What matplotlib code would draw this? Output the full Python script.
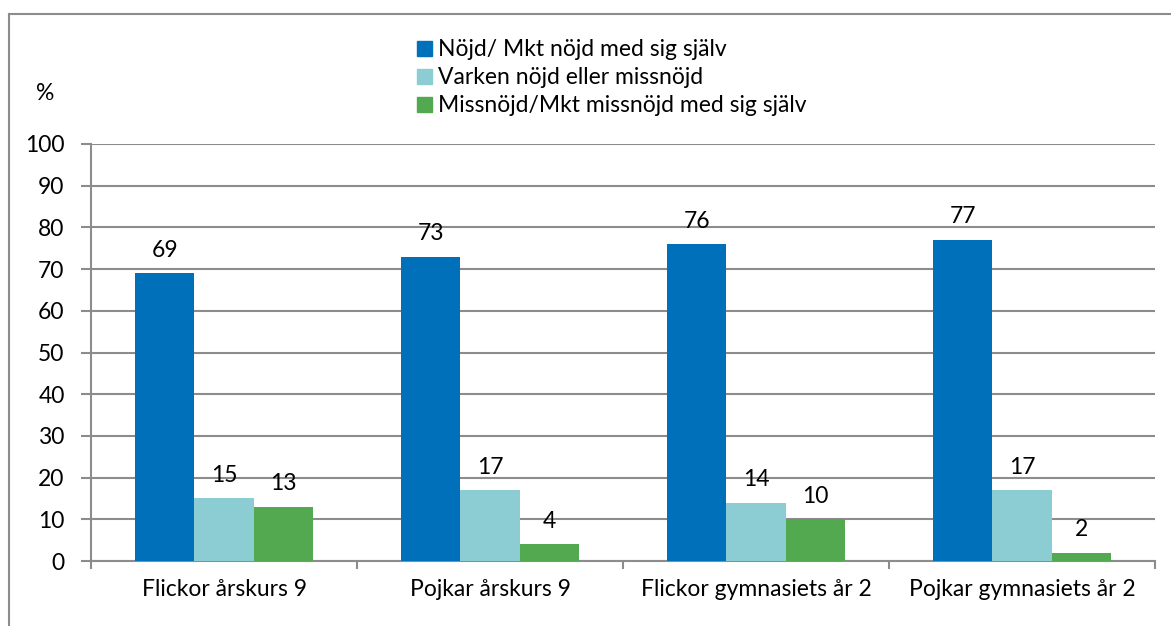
import numpy as np
import matplotlib
matplotlib.use("Agg")
import matplotlib.pyplot as plt
from matplotlib.lines import Line2D
from matplotlib.patches import Patch

plt.rcParams['font.family'] = ['Lato', 'DejaVu Sans']

# Données
categories = ["Flickor årskurs 9", "Pojkar årskurs 9",
              "Flickor gymnasiets år 2", "Pojkar gymnasiets år 2"]
series_names = ["Nöjd/ Mkt nöjd med sig själv",
                "Varken nöjd eller missnöjd",
                "Missnöjd/Mkt missnöjd med sig själv"]
nojd = [69, 73, 76, 77]
varken = [15, 17, 14, 17]
missnojd = [13, 4, 10, 2]
yticks = [0, 10, 20, 30, 40, 50, 60, 70, 80, 90, 100]

colors = ["#0070BA", "#8BCDD2", "#53A94F"]
grid_color = "#8C8C8C"

fig = plt.figure(figsize=(11.71, 6.26), dpi=100)
ax = fig.add_axes([91 / 1171, 1 - 561 / 626, (1155 - 91) / 1171, (561 - 144) / 626])

x = np.arange(len(categories))
width = 0.222
fs = 16.5

for i, (vals, name) in enumerate(zip([nojd, varken, missnojd], series_names)):
    pos = x + (i - 1) * width
    ax.bar(pos, vals, width, color=colors[i], zorder=3, label=name)
    for p, v in zip(pos, vals):
        ax.annotate(str(v), (p, v), xytext=(0, 9), textcoords="offset points",
                    ha="center", va="bottom", fontsize=fs)

ax.set_xlim(-0.5, len(categories) - 0.5)
ax.set_ylim(0, 100)
ax.set_yticks(yticks)
ax.yaxis.grid(True, color=grid_color, linewidth=1.5, zorder=0)
ax.tick_params(axis="y", length=7, color=grid_color, width=1.5, labelsize=fs, pad=12)

# Ticks de catégories entre les groupes
ax.set_xticks(np.arange(-0.5, len(categories)), minor=False)
ax.set_xticklabels([])
ax.set_xticks(x, minor=True)
ax.set_xticklabels(categories, minor=True, fontsize=fs)
ax.tick_params(axis="x", which="major", length=6, color=grid_color, width=1.5)
ax.tick_params(axis="x", which="minor", length=0, pad=13)

for s in ["top", "right"]:
    ax.spines[s].set_visible(False)
ax.spines["left"].set_color(grid_color)
ax.spines["left"].set_linewidth(1.5)
ax.spines["bottom"].set_color(grid_color)
ax.spines["bottom"].set_linewidth(1.5)

# Légende
handles = [Patch(color=c) for c in colors]
fig.legend(handles, series_names, loc="upper left", bbox_to_anchor=(406 / 1171, 1 - 28 / 626),
           frameon=False, fontsize=fs, handlelength=0.65, handleheight=0.65,
           handletextpad=0.25, labelspacing=0.3, borderpad=0)

fig.text(45 / 1171, 1 - 93 / 626, "%", fontsize=fs, ha="center", va="center")

# Cadre extérieur (haut et gauche)
fig.add_artist(Line2D([8.5 / 1171, 8.5 / 1171], [0, 1 - 13.5 / 626], color=grid_color, linewidth=1.5))
fig.add_artist(Line2D([8.5 / 1171, 1], [1 - 13.5 / 626, 1 - 13.5 / 626], color=grid_color, linewidth=1.5))

fig.savefig("out.png", dpi=100)
